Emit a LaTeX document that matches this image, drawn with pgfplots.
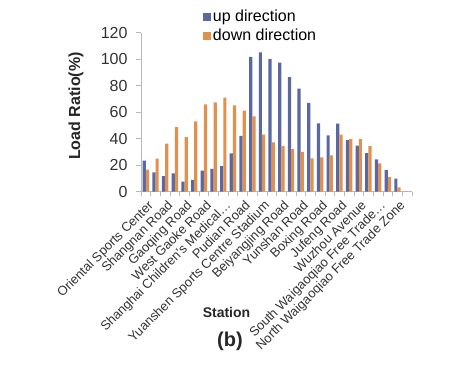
\documentclass[border=0pt]{standalone}
\usepackage{pgfplots}
\pgfplotsset{compat=1.18}
\usepackage{fontspec}
\setmainfont{Liberation Sans}
\definecolor{upc}{HTML}{5B67A3}
\definecolor{downc}{HTML}{E0914F}
\begin{document}
\begin{tikzpicture}
\begin{axis}[
  scale only axis, width=271pt, height=159pt,
  ybar, bar width=3.2pt,
  xmin=-0.5, xmax=27.5, ymin=0, ymax=120,
  ytick={0,20,...,120},
  xtick={0,2,...,26},
  xticklabels={Oriental Sports Center,Shangnan Road,Gaoqing Road,West Gaoke Road,Shanghai Children's Medical…,Pudian Road,Yuanshen Sports Centre Stadium,Beiyangjing Road,Yunshan Road,Boxing Road,Jufeng Road,Wuzhou Avenue,South Waigaoqiao Free Trade…,North Waigaoqiao Free Trade Zone},
  minor xtick={-0.5,0.5,...,27.5},
  major x tick style={draw=none},
  axis x line*=bottom, axis y line*=left,
  axis line style={gray!55, line width=0.8pt},
  tick style={gray!55, line width=0.6pt},
  tick align=outside, major tick length=5pt, minor tick length=4pt,
  /pgf/number format/assume math mode=true,
  yticklabel style={font=\fontsize{16}{16}\selectfont, color=black!80, xshift=-5pt},
  xticklabel style={font=\fontsize{13}{13}\selectfont, color=black!80, rotate=45, anchor=north east, inner sep=1pt, yshift=-2pt},
  legend style={at={(axis description cs:0.228,1.155)}, anchor=north west, draw=none, fill=none,
    font=\fontsize{16}{16}\selectfont, row sep=2pt, inner sep=0pt,
    /tikz/every even column/.append style={column sep=3pt}},
  legend cell align=left,
  legend image code/.code={\fill[#1] (0pt,-4pt) rectangle (8pt,4pt);},
]
\addplot[fill=upc, draw=none, bar shift=-1.6pt] coordinates {
(0,23.3)(1,14.5)(2,11.7)(3,13.6)(4,7.4)(5,8.7)(6,15.7)(7,17)(8,19.2)(9,28.8)
(10,42)(11,101.7)(12,105)(13,100)(14,97.2)(15,86.4)(16,77.6)(17,66.8)(18,51.4)(19,42.4)
(20,51.3)(21,38.8)(22,34.6)(23,29)(24,24.3)(25,16.2)(26,9.8)(27,0)};
\addplot[fill=downc, draw=none, bar shift=1.6pt] coordinates {
(0,16.5)(1,24.9)(2,36.2)(3,48.6)(4,41)(5,53)(6,65.8)(7,67.3)(8,70.8)(9,65)
(10,61)(11,56.7)(12,42.9)(13,37)(14,34.3)(15,32)(16,30)(17,25)(18,25.8)(19,27.3)
(20,43)(21,39.6)(22,39.5)(23,34.3)(24,21.3)(25,10.8)(26,3.2)(27,0)};
\legend{up direction,down direction}
\coordinate (SW) at (axis cs:-0.5,0);
\end{axis}
\begin{scope}[shift={(SW)}, x=1pt, y=1pt]
\node[rotate=90, font=\bfseries\fontsize{16}{16}\selectfont, color=black!85] at (-65,85.5) {Load Ratio(\%)};
\node[font=\bfseries\fontsize{14}{14}\selectfont, color=black!85] at (85.5,-120.5) {Station};
\node[font=\bfseries\fontsize{20}{20}\selectfont, color=black!85] at (89,-149.5) {(b)};
\pgfresetboundingbox
\path[use as bounding box] (-141,-173.5) rectangle (314,191.5);
\end{scope}
\end{tikzpicture}
\end{document}
